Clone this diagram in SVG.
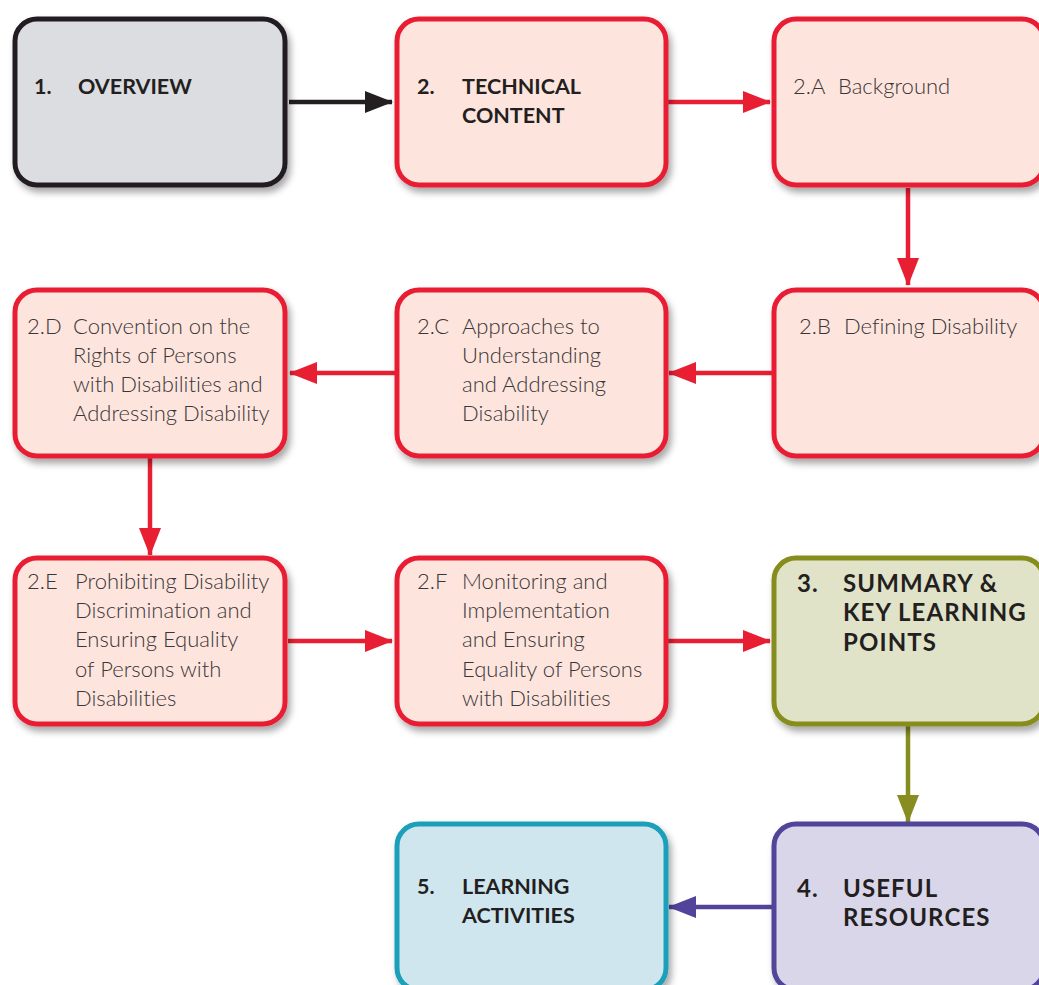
<svg xmlns="http://www.w3.org/2000/svg" width="1039" height="985" viewBox="0 0 1039 985">
<defs>
<filter id="sh" x="-10%" y="-10%" width="130%" height="130%">
<feDropShadow dx="3" dy="5" stdDeviation="3.5" flood-color="#000" flood-opacity="0.35"/>
</filter>
<marker id="ak" markerUnits="userSpaceOnUse" markerWidth="28" markerHeight="22" refX="27" refY="11" orient="auto"><path d="M0,0 L28,11 L0,22 Z" fill="#231f20"/></marker>
<marker id="ar" markerUnits="userSpaceOnUse" markerWidth="28" markerHeight="22" refX="27" refY="11" orient="auto"><path d="M0,0 L28,11 L0,22 Z" fill="#e81f33"/></marker>
<marker id="ag" markerUnits="userSpaceOnUse" markerWidth="28" markerHeight="22" refX="27" refY="11" orient="auto"><path d="M0,0 L28,11 L0,22 Z" fill="#878d1e"/></marker>
<marker id="ap" markerUnits="userSpaceOnUse" markerWidth="28" markerHeight="22" refX="27" refY="11" orient="auto"><path d="M0,0 L28,11 L0,22 Z" fill="#51449a"/></marker>
<style>
text{font-variant-ligatures:none}
.box{stroke-width:5;filter:url(#sh)}
.gray{fill:#dcdde0;stroke:#231f20}
.red{fill:#fde5de;stroke:#e81f33}
.green{fill:#e1e3c8;stroke:#878d1e}
.purple{fill:#dad6ea;stroke:#51449a}
.teal{fill:#cfe6ee;stroke:#1aa0ba}
.h{font-family:Lato,"Open Sans",sans-serif;font-weight:700;font-size:21.5px;fill:#231f20}
.hb{font-family:Lato,"Open Sans",sans-serif;font-weight:700;font-size:24px;letter-spacing:1.1px;fill:#231f20}
.t{font-family:Lato,"Open Sans",sans-serif;font-weight:300;font-size:22px;fill:#3a3536}
.c{fill:none;stroke-width:4.5}
</style>
</defs>
<g id="connectors">
<line class="c" x1="289" y1="102" x2="392" y2="102" stroke="#231f20" marker-end="url(#ak)"/>
<line class="c" x1="668" y1="102" x2="770" y2="102" stroke="#e81f33" marker-end="url(#ar)"/>
<line class="c" x1="908" y1="188" x2="908" y2="285" stroke="#e81f33" marker-end="url(#ar)"/>
<line class="c" x1="773" y1="373" x2="669" y2="373" stroke="#e81f33" marker-end="url(#ar)"/>
<line class="c" x1="396" y1="373" x2="290" y2="373" stroke="#e81f33" marker-end="url(#ar)"/>
<line class="c" x1="150" y1="458" x2="150" y2="555" stroke="#e81f33" marker-end="url(#ar)"/>
<line class="c" x1="288" y1="641" x2="392" y2="641" stroke="#e81f33" marker-end="url(#ar)"/>
<line class="c" x1="668" y1="641" x2="770" y2="641" stroke="#e81f33" marker-end="url(#ar)"/>
<line class="c" x1="908" y1="726" x2="908" y2="822" stroke="#878d1e" marker-end="url(#ag)"/>
<line class="c" x1="773" y1="907" x2="669" y2="907" stroke="#51449a" marker-end="url(#ap)"/>
</g>
<g id="n1">
<rect class="box gray" x="15" y="19" width="270" height="166" rx="22"/>
<text class="h" x="34" y="94">1.</text>
<text class="h" x="78" y="94">OVERVIEW</text>
</g>
<g id="n2">
<rect class="box red" x="397" y="19" width="269" height="166" rx="22"/>
<text class="h" x="417" y="94">2.</text>
<text class="h" x="462" y="94">TECHNICAL</text>
<text class="h" x="462" y="123">CONTENT</text>
</g>
<g id="n2a">
<rect class="box red" x="774" y="19" width="270" height="166" rx="22"/>
<text class="t" x="793" y="94">2.A</text>
<text class="t" x="838" y="94">Background</text>
</g>
<g id="n2b">
<rect class="box red" x="774" y="290" width="270" height="166" rx="22"/>
<text class="t" x="799" y="334">2.B</text>
<text class="t" x="844" y="334">Defining Disability</text>
</g>
<g id="n2c">
<rect class="box red" x="397" y="290" width="269" height="166" rx="22"/>
<text class="t" x="417" y="334">2.C</text>
<text class="t" x="462" y="334">Approaches to</text>
<text class="t" x="462" y="363">Understanding</text>
<text class="t" x="462" y="392">and Addressing</text>
<text class="t" x="462" y="421">Disability</text>
</g>
<g id="n2d">
<rect class="box red" x="15" y="290" width="270" height="166" rx="22"/>
<text class="t" x="27" y="334">2.D</text>
<text class="t" x="73" y="334">Convention on the</text>
<text class="t" x="73" y="363">Rights of Persons</text>
<text class="t" x="73" y="392">with Disabilities and</text>
<text class="t" x="73" y="421">Addressing Disability</text>
</g>
<g id="n2e">
<rect class="box red" x="15" y="558" width="270" height="166" rx="22"/>
<text class="t" x="27" y="589">2.E</text>
<text class="t" x="75" y="589">Prohibiting Disability</text>
<text class="t" x="75" y="618">Discrimination and</text>
<text class="t" x="75" y="647">Ensuring Equality</text>
<text class="t" x="75" y="677">of Persons with</text>
<text class="t" x="75" y="706">Disabilities</text>
</g>
<g id="n2f">
<rect class="box red" x="397" y="558" width="269" height="166" rx="22"/>
<text class="t" x="417" y="589">2.F</text>
<text class="t" x="462" y="589">Monitoring and</text>
<text class="t" x="462" y="618">Implementation</text>
<text class="t" x="462" y="647">and Ensuring</text>
<text class="t" x="462" y="677">Equality of Persons</text>
<text class="t" x="462" y="706">with Disabilities</text>
</g>
<g id="n3">
<rect class="box green" x="774" y="558" width="270" height="166" rx="22"/>
<text class="hb" x="797" y="592">3.</text>
<text class="hb" x="843" y="592">SUMMARY &amp;</text>
<text class="hb" x="843" y="621">KEY LEARNING</text>
<text class="hb" x="843" y="651">POINTS</text>
</g>
<g id="n4">
<rect class="box purple" x="774" y="824" width="270" height="166" rx="22"/>
<text class="hb" x="797" y="897">4.</text>
<text class="hb" x="843" y="897">USEFUL</text>
<text class="hb" x="843" y="926">RESOURCES</text>
</g>
<g id="n5">
<rect class="box teal" x="397" y="824" width="269" height="166" rx="22"/>
<text class="h" x="417" y="894">5.</text>
<text class="h" x="462" y="894">LEARNING</text>
<text class="h" x="462" y="923">ACTIVITIES</text>
</g>
</svg>
